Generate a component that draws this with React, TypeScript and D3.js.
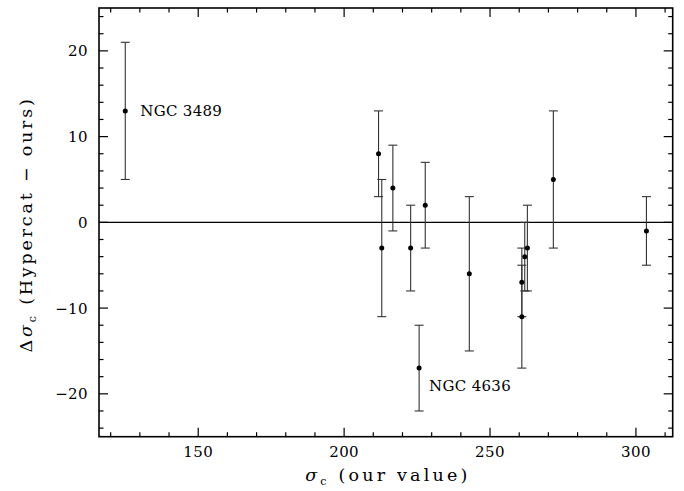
import React from "react";
import * as d3 from "d3";

const sigmaOurs = [125, 211.8, 212.9, 216.7, 222.8, 225.7, 227.8, 242.9, 260.9, 260.9, 261.9, 262.8, 271.7, 303.6];
const deltaSigma = [13, 8, -3, 4, -3, -17, 2, -6, -7, -11, -4, -3, 5, -1];
const deltaErr = [8, 5, 8, 5, 5, 5, 5, 9, 4, 6, 4, 5, 8, 4];
const xMajorTicks = [150, 200, 250, 300];
const yMajorTicks = [-20, -10, 0, 10, 20];
const labels = [
  { idx: 0, text: "NGC 3489" },
  { idx: 5, text: "NGC 4636" },
];

const W = 684;
const H = 491;
const left = 99;
const right = 672.7;
const top = 8;
const bottom = 436.7;
const FONT = "'DejaVu Serif', serif";

export default function App() {
  const x = d3.scaleLinear().domain([116, 312.6]).range([left, right]);
  const y = d3.scaleLinear().domain([-25, 25]).range([bottom, top]);
  const xMinor = d3.range(120, 312, 10).filter((v) => !xMajorTicks.includes(v));
  const yMinor = d3.range(-24, 25, 2).filter((v) => !yMajorTicks.includes(v));
  const fmt = (v: number) => (v < 0 ? "\u2212" + Math.abs(v) : String(v));
  const major = 9;
  const minor = 4.5;

  return (
    <svg
      width={W}
      height={H}
      style={{ position: "absolute", left: 0, top: 0, background: "#fff" }}
      fontFamily={FONT}
    >
      <rect x={0} y={0} width={W} height={H} fill="#fff" />
      {/* zero line */}
      <line x1={left} x2={right} y1={y(0)} y2={y(0)} stroke="#000" strokeWidth={1.1} />
      {/* error bars */}
      {sigmaOurs.map((sx, i) => {
        const cx = x(sx);
        const y1 = y(deltaSigma[i] + deltaErr[i]);
        const y2 = y(deltaSigma[i] - deltaErr[i]);
        return (
          <g key={"e" + i} stroke="#333" strokeWidth={1.1}>
            <line x1={cx} x2={cx} y1={y1} y2={y2} />
            <line x1={cx - 4.5} x2={cx + 4.5} y1={y1} y2={y1} />
            <line x1={cx - 4.5} x2={cx + 4.5} y1={y2} y2={y2} />
          </g>
        );
      })}
      {sigmaOurs.map((sx, i) => (
        <circle key={"p" + i} cx={x(sx)} cy={y(deltaSigma[i])} r={2.5} fill="#000" />
      ))}
      {/* labels */}
      <text x={x(sigmaOurs[labels[0].idx]) + 15} y={y(deltaSigma[labels[0].idx]) + 5.5} fontSize={15} letterSpacing={0.3} fill="#000">
        {labels[0].text}
      </text>
      <text x={x(sigmaOurs[labels[1].idx]) + 10} y={y(deltaSigma[labels[1].idx]) + 23} fontSize={15} letterSpacing={0.3} fill="#000">
        {labels[1].text}
      </text>
      {/* frame */}
      <rect x={left} y={top} width={right - left} height={bottom - top} fill="none" stroke="#000" strokeWidth={1.6} />
      {/* ticks */}
      <g stroke="#000" strokeWidth={1.2}>
        {xMajorTicks.map((v) => (
          <g key={"xm" + v}>
            <line x1={x(v)} x2={x(v)} y1={bottom} y2={bottom - major} />
            <line x1={x(v)} x2={x(v)} y1={top} y2={top + major} />
          </g>
        ))}
        {xMinor.map((v) => (
          <g key={"xn" + v}>
            <line x1={x(v)} x2={x(v)} y1={bottom} y2={bottom - minor} />
            <line x1={x(v)} x2={x(v)} y1={top} y2={top + minor} />
          </g>
        ))}
        {yMajorTicks.map((v) => (
          <g key={"ym" + v}>
            <line x1={left} x2={left + major} y1={y(v)} y2={y(v)} />
            <line x1={right} x2={right - major} y1={y(v)} y2={y(v)} />
          </g>
        ))}
        {yMinor.map((v) => (
          <g key={"yn" + v}>
            <line x1={left} x2={left + minor} y1={y(v)} y2={y(v)} />
            <line x1={right} x2={right - minor} y1={y(v)} y2={y(v)} />
          </g>
        ))}
      </g>
      {/* tick labels */}
      {xMajorTicks.map((v) => (
        <text key={"xl" + v} x={x(v)} y={457} textAnchor="middle" fontSize={15} letterSpacing={0.4} fill="#000">
          {fmt(v)}
        </text>
      ))}
      {yMajorTicks.map((v) => (
        <text key={"yl" + v} x={88} y={y(v) + 5.5} textAnchor="end" fontSize={15} letterSpacing={0.4} fill="#000">
          {fmt(v)}
        </text>
      ))}
      {/* x title */}
      <text x={(left + right) / 2 + 2} y={481} textAnchor="middle" fontSize={17.5} letterSpacing={3.2} fill="#000">
        <tspan fontStyle="italic">σ</tspan>
        <tspan fontSize={11} dy={4}>c</tspan>
        <tspan dy={-4}>{" (our value)"}</tspan>
      </text>
      {/* y title */}
      <text
        transform={`translate(32, ${(top + bottom) / 2 + 2}) rotate(-90)`}
        textAnchor="middle"
        fontSize={17.5}
        letterSpacing={2.8}
        fill="#000"
      >
        <tspan>Δ</tspan>
        <tspan fontStyle="italic">σ</tspan>
        <tspan fontSize={11} dy={4}>c</tspan>
        <tspan dy={-4}>{" (Hypercat \u2212 ours)"}</tspan>
      </text>
    </svg>
  );
}
